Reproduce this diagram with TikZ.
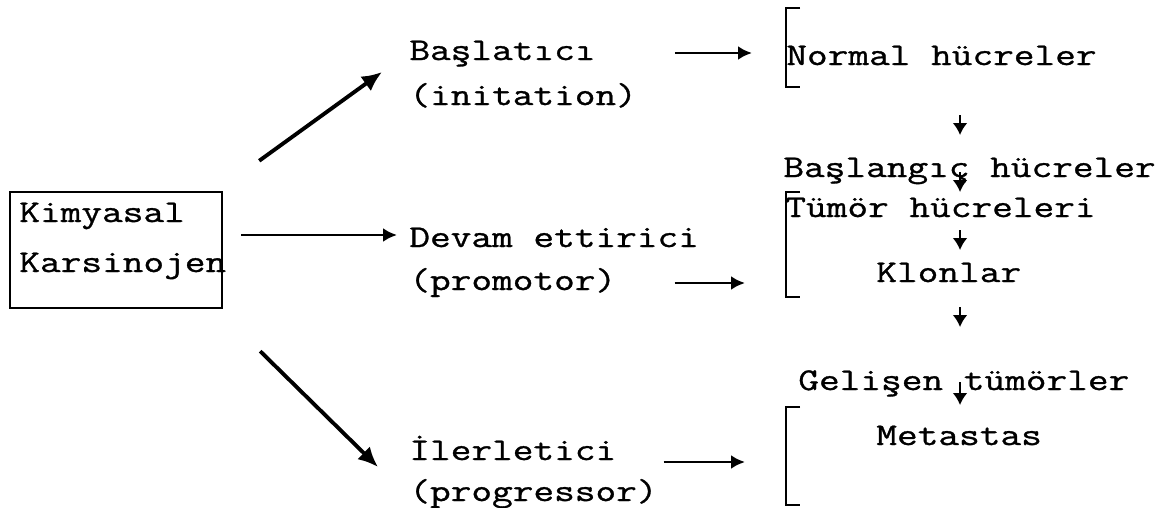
\documentclass[tikz,border=0pt]{standalone}
\usepackage{fontspec}
\newfontfamily\daktilo[FakeStretch=1.27, FakeBold=1]{Latin Modern Mono}
\usetikzlibrary{arrows.meta, calc}

\begin{document}
\begin{tikzpicture}[
    x=0.02cm, y=-0.02cm,
    txt/.style={
        anchor=base west,
        inner sep=0pt,
        font=\daktilo\fontsize{18}{22}\selectfont
    },
    box/.style={
        draw,
        rectangle,
        line width=1.4pt,
        minimum width=4.24cm,
        minimum height=2.32cm
    },
    arrow/.style={-{Latex[length=0.28cm, width=0.28cm]}, line width=1.6pt},
    bigarrow/.style={-{Latex[length=0.4cm, width=0.36cm]}, line width=2.2pt},
    smallarrow/.style={-{Latex[length=0.24cm, width=0.3cm]}, line width=1.5pt},
    bracket/.style={line width=1.6pt}
]
\useasboundingbox (0,0) rectangle (1165,507);

% Carcinogen box
\node[box] (kimya) at (116,250) {};
\node[txt] (kim1) at (19,222) {Kimyasal};
\node[txt] (kim2) at (19,272) {Karsinojen};

% Stages - middle column
\node[txt] (basla) at (409,60) {Başlatıcı};
\node[txt] (init) at (409,105) {(initation)};
\node[txt] (devam) at (409,247) {Devam ettirici};
\node[txt] (promo) at (409,290) {(promotor)};
\node[txt] (ilerle) at (409,460) {İlerletici};
\node[txt] (progres) at (409,501) {(progressor)};

% Cells - right column
\node[txt] (normal) at (786,65) {Normal hücreler};
\node[txt] (basl2) at (783,177) {Başlangıç hücreler};
\node[txt] (tumor) at (785,217) {Tümör hücreleri};
\node[txt] (klon) at (876,282) {Klonlar};
\node[txt] (gelisen) at (798,390) {Gelişen tümörler};
\node[txt] (meta) at (876,445) {Metastas};
\coordinate (axis) at (960,0);

% Brackets
\draw[bracket] (800,8) -- (786,8) -- (786,87) -- (800,87);
\draw[bracket] (800,192) -- (786,192) -- (786,297) -- (800,297);
\draw[bracket] (800,407) -- (786,407) -- (786,505) -- (800,505);

% Box to stages
\draw[bigarrow] ([shift={(36,-30)}]kimya.north east) -- ([shift={(-27,12)}]basla.base west);
\draw[arrow] ([shift={(18,-15)}]kimya.east) -- ([shift={(-12,-12)}]devam.base west);
\draw[bigarrow] ([shift={(37,42)}]kimya.south east) -- ([shift={(-31,7)}]ilerle.base west);

% Stages to cells
\draw[arrow] ([shift={(79,-7)}]basla.base east) -- ([shift={(-34,-12)}]normal.base west);
\draw[arrow] ([shift={(58,-7)}]promo.base east) -- ([shift={(-131,1)}]klon.base west);
\draw[arrow] ([shift={(47,2)}]ilerle.base east) -- ([shift={(-131,17)}]meta.base west);

% Down the column
\foreach \from/\to/\s/\e in {normal/basl2/50/-42, basl2/tumor/-5/-25, tumor/klon/13/-32,
                             klon/gelisen/25/-63, gelisen/meta/-8/-40}
    \draw[smallarrow] ($(axis |- \from.base)+(0,\s)$) -- ($(axis |- \to.base)+(0,\e)$);

\end{tikzpicture}
\end{document}
